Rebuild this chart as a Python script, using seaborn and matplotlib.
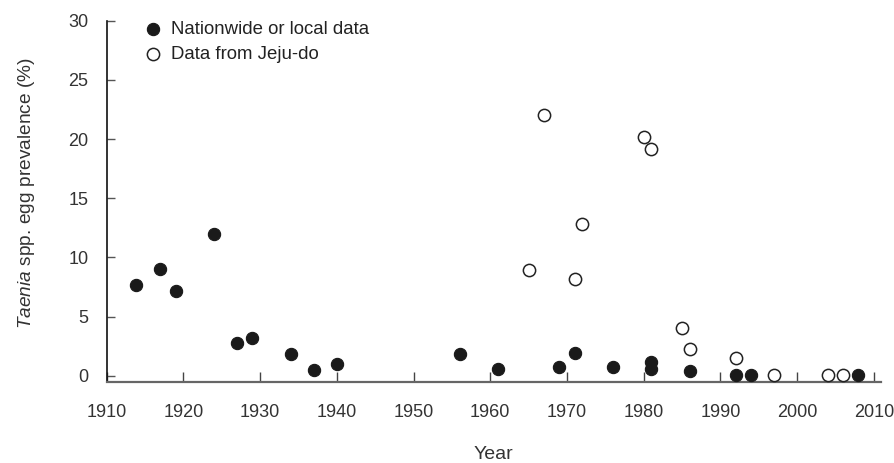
import matplotlib
matplotlib.use("Agg")
import matplotlib.pyplot as plt
import seaborn as sns
import pandas as pd

# Data
nation_years = [1913.8, 1917, 1919, 1924, 1927, 1929, 1934, 1937, 1940, 1956,
                1961, 1969, 1971, 1976, 1981, 1981, 1986, 1992, 1994, 2008]
nation_prev = [7.7, 9.0, 7.2, 12.0, 2.8, 3.2, 1.8, 0.5, 1.0, 1.8,
               0.6, 0.7, 1.9, 0.7, 1.2, 0.6, 0.4, 0.1, 0.1, 0.1]
jeju_years = [1965, 1967, 1971, 1972, 1980, 1981, 1985, 1986, 1992, 1997, 2004, 2006]
jeju_prev = [8.9, 22.0, 8.2, 12.8, 20.2, 19.2, 4.0, 2.3, 1.5, 0.05, 0.05, 0.05]

x_ticks = [1910, 1920, 1930, 1940, 1950, 1960, 1970, 1980, 1990, 2000, 2010]
y_ticks = [0, 5, 10, 15, 20, 25, 30]

sns.set_style("ticks")
plt.rcParams['font.family'] = ['Liberation Sans', 'DejaVu Sans']
plt.rcParams['mathtext.fontset'] = 'custom'
plt.rcParams['mathtext.it'] = 'Liberation Sans:italic'
plt.rcParams['mathtext.rm'] = 'Liberation Sans'

nation_df = pd.DataFrame({"Year": nation_years, "Prevalence": nation_prev})
jeju_df = pd.DataFrame({"Year": jeju_years, "Prevalence": jeju_prev})

fig = plt.figure(figsize=(8.94, 4.63), dpi=100)
ax = fig.add_axes([0.1193, 0.1756, 0.8658, 0.7797])

sns.scatterplot(data=nation_df, x="Year", y="Prevalence", ax=ax, s=78,
                color="#1a1a1a", edgecolor="#1a1a1a", linewidth=0.8,
                label="Nationwide or local data", zorder=3)
sns.scatterplot(data=jeju_df, x="Year", y="Prevalence", ax=ax, s=78,
                facecolor="white", edgecolor="#222222", linewidth=1.1,
                label="Data from Jeju-do", zorder=3)

ax.set_xlim(1910, 2010.9)
ax.set_ylim(-0.5, 30)
ax.set_xticks(x_ticks)
ax.set_yticks(y_ticks)

sns.despine(ax=ax)
ax.spines['left'].set_color("#111111")
ax.spines['left'].set_linewidth(1.2)
ax.spines['bottom'].set_color("#666666")
ax.spines['bottom'].set_linewidth(1.6)

ax.tick_params(axis='y', direction='in', length=6, width=1, color="#555555",
               labelcolor="#333333", labelsize=13, pad=13)
ax.tick_params(axis='x', direction='in', length=7, width=1, color="#444444",
               labelcolor="#333333", labelsize=13, pad=16)

ax.set_xlabel("Year", fontsize=14, color="#333333", labelpad=18)
ax.set_ylabel(r"$\mathit{Taenia}$ spp. egg prevalence (%)", fontsize=13.8,
              color="#333333")
ax.yaxis.set_label_coords(-0.090, 0.5227)

leg = ax.legend(loc="upper left", bbox_to_anchor=(0.0305, 1.0205), frameon=False,
                fontsize=13.4, handlelength=1.6, handletextpad=0.2,
                labelspacing=0.42, borderaxespad=0, labelcolor="#222222")

fig.savefig("out.png", dpi=100)
